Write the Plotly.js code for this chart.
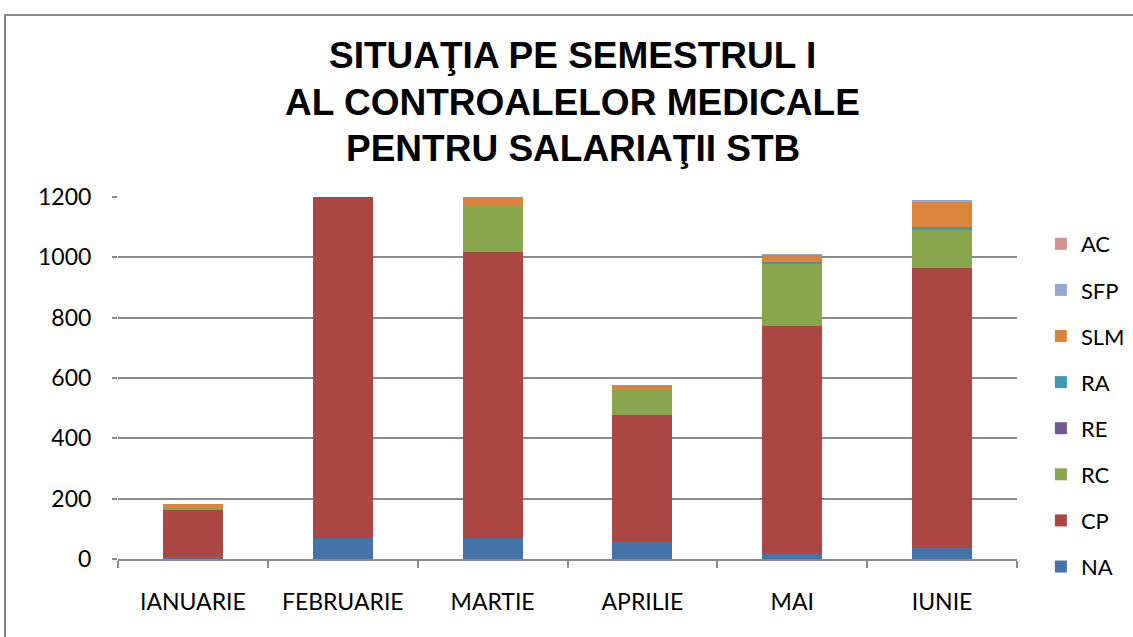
<!DOCTYPE html>
<html>
<head>
<meta charset="utf-8">
<script src="https://cdn.plot.ly/plotly-3.0.1.min.js"></script>
<style>
html,body{margin:0;padding:0;background:#fff;overflow:hidden;}
#wrap{position:relative;width:1133px;height:637px;}
#chart{position:absolute;left:0;top:0;width:1133px;height:637px;}
#frame{position:absolute;left:4px;top:14px;width:1140px;height:640px;border:2px solid #898989;pointer-events:none;box-sizing:border-box;}
</style>
</head>
<body>
<div id="wrap"><div id="chart"></div><div id="frame"></div></div>
<script>
const categories = ["IANUARIE", "FEBRUARIE", "MARTIE", "APRILIE", "MAI", "IUNIE"];
const NA  = [5, 70, 70, 56, 20, 36];
const CP  = [157, 1130, 948, 421, 752, 929];
const RC  = [6, 0, 153, 84, 206, 125];
const RE  = [0, 0, 0, 0, 0, 2];
const RA  = [0, 0, 0, 0, 6, 8];
const SLM = [13, 0, 35, 16, 24, 83];
const SFP = [0, 0, 0, 0, 3, 6];
const AC  = [0, 0, 0, 0, 0, 2];
const seriesNames = ["NA", "CP", "RC", "RE", "RA", "SLM", "SFP", "AC"];
const seriesValues = [NA, CP, RC, RE, RA, SLM, SFP, AC];
const seriesColors = ["#4572A7", "#AA4643", "#89A54E", "#71588F", "#4198AF", "#DB843D", "#93A9CF", "#D19392"];
const yTicks = [0, 200, 400, 600, 800, 1000, 1200];
const titleLines = ["SITUAŢIA PE SEMESTRUL I", "AL CONTROALELOR MEDICALE", "PENTRU SALARIAŢII STB"];

const traces = seriesNames.map((n, i) => ({
  type: "bar",
  name: n,
  x: categories,
  y: seriesValues[i],
  marker: {color: seriesColors[i], line: {width: 0}},
  legendgroup: n,
  legendrank: seriesNames.length - i
}));

const titleY = [1.392, 1.262, 1.135];
const annotations = titleLines.map((t, i) => ({
  text: t, xref: "paper", yref: "paper", x: 0.506, y: titleY[i],
  xanchor: "center", yanchor: "middle", showarrow: false,
  font: {family: "Liberation Sans, Arial, sans-serif", size: 37, color: "#000", weight: "bold"}
}));

const layout = {
  width: 1133, height: 637,
  paper_bgcolor: "#ffffff", plot_bgcolor: "#ffffff",
  margin: {l: 118, r: 116, t: 197, b: 78, autoexpand: false},
  barmode: "stack",
  bargap: 0.6,
  annotations: annotations,
  font: {family: "Lato, sans-serif", size: 23, color: "#000"},
  xaxis: {
    type: "category",
    showline: true, linecolor: "#8a8a8a", linewidth: 2,
    ticks: "outside", tickson: "boundaries", ticklen: 7, tickcolor: "#8a8a8a", tickwidth: 2,
    showgrid: false,
    ticklabelstandoff: 21,
    tickfont: {family: "Lato, sans-serif", size: 23, color: "#000"}
  },
  yaxis: {
    range: [0, 1200],
    tickvals: yTicks,
    ticktext: yTicks.map(String),
    showgrid: true, gridcolor: "#8a8a8a", gridwidth: 2,
    zeroline: false, showline: false,
    ticks: "outside", ticklen: 5, tickcolor: "#8a8a8a", tickwidth: 2,
    ticklabelstandoff: 16,
    tickfont: {family: "Lato, sans-serif", size: 23, color: "#000"}
  },
  legend: {
    xref: "container", yref: "container",
    x: 0.9187, xanchor: "left", y: 0.3634, yanchor: "middle",
    maxheight: 600,
    traceorder: "grouped",
    tracegroupgap: 14.5,
    font: {family: "Lato, sans-serif", size: 22, color: "#000"},
    bgcolor: "rgba(0,0,0,0)"
  },
  showlegend: true
};

Plotly.newPlot("chart", traces, layout, {staticPlot: true, displayModeBar: false});
</script>
</body>
</html>
